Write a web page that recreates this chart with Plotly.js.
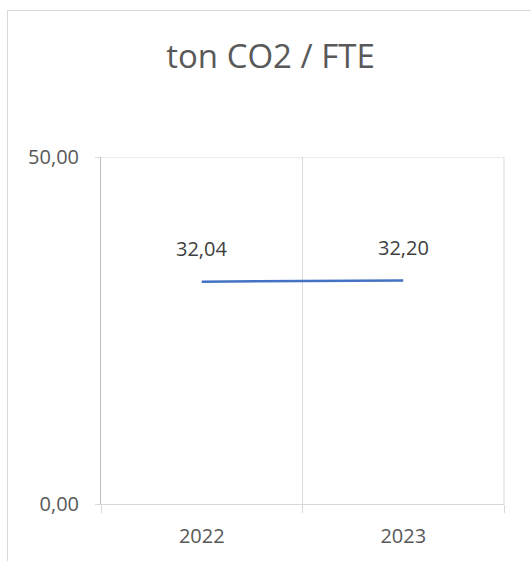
<!DOCTYPE html>
<html>
<head>
<meta charset="utf-8">
<script src="https://cdn.plot.ly/plotly-3.0.1.min.js"></script>
<style>
  html, body { margin: 0; padding: 0; background: #fff; overflow: hidden; }
  #wrap { position: relative; width: 531px; height: 561px; overflow: hidden; }
  #frame { position: absolute; left: 7px; top: 10px; width: 620px; height: 620px; border: 1px solid #d9d9d9; box-sizing: border-box; }
  #chart { position: absolute; left: 0; top: 0; width: 531px; height: 561px; }
</style>
</head>
<body>
<div id="wrap">
  <div id="frame"></div>
  <div id="chart"></div>
</div>
<script>
const categories = ['2022', '2023'];
const values = [32.04, 32.20];
const yTicks = [0, 50];
const chartTitle = 'ton CO2 / FTE';

function fmt(v) { return v.toFixed(2).replace('.', ','); }

const trace = {
  x: categories,
  y: values,
  type: 'scatter',
  mode: 'lines',
  line: { color: '#4472C4', width: 2.5 },
  hoverinfo: 'skip'
};

const annotations = categories.map((c, i) => ({
  x: i, y: values[i], xref: 'x', yref: 'y',
  text: fmt(values[i]), showarrow: false,
  yshift: 33,
  font: { family: 'Open Sans', size: 20, color: '#404040' }
}));

const yMax = yTicks[yTicks.length - 1];
const shapes = [
  { type: 'line', xref: 'paper', yref: 'y', x0: 0, x1: 1, y0: yMax, y1: yMax,
    line: { color: '#d9d9d9', width: 1 }, layer: 'below' },
  { type: 'line', xref: 'paper', yref: 'paper', x0: 1, x1: 1, y0: 0, y1: 1,
    line: { color: '#d9d9d9', width: 1 }, layer: 'below' }
];

const layout = {
  width: 531, height: 561,
  margin: { l: 101, r: 27, t: 157, b: 57 },
  paper_bgcolor: 'rgba(0,0,0,0)',
  plot_bgcolor: 'rgba(0,0,0,0)',
  separators: ',.',
  showlegend: false,
  title: {
    text: chartTitle,
    xref: 'container', yref: 'container',
    x: 270.5 / 531, xanchor: 'center',
    y: 1 - 56 / 561, yanchor: 'middle',
    font: { family: 'Open Sans', size: 33, color: '#595959' }
  },
  xaxis: {
    type: 'category',
    range: [-0.5, 1.5],
    tickson: 'boundaries',
    ticks: 'outside', ticklen: 8, tickcolor: '#d9d9d9', tickwidth: 1,
    showgrid: true, gridcolor: '#d9d9d9', gridwidth: 1,
    showline: true, linecolor: '#d9d9d9', linewidth: 1,
    ticklabelstandoff: 14,
    tickfont: { family: 'Open Sans', size: 20, color: '#595959' },
    fixedrange: true
  },
  yaxis: {
    range: [0, 50],
    tickvals: yTicks,
    tickformat: '.2f',
    ticks: 'outside', ticklen: 5, tickcolor: '#d9d9d9', tickwidth: 1,
    showgrid: true, gridcolor: '#d9d9d9', gridwidth: 1,
    zeroline: false,
    showline: true, linecolor: '#bfbfbf', linewidth: 1,
    ticklabelstandoff: 12,
    tickfont: { family: 'Open Sans', size: 20, color: '#595959' },
    fixedrange: true
  },
  shapes: shapes,
  annotations: annotations
};

Plotly.newPlot('chart', [trace], layout, { displayModeBar: false, staticPlot: true });
</script>
</body>
</html>
